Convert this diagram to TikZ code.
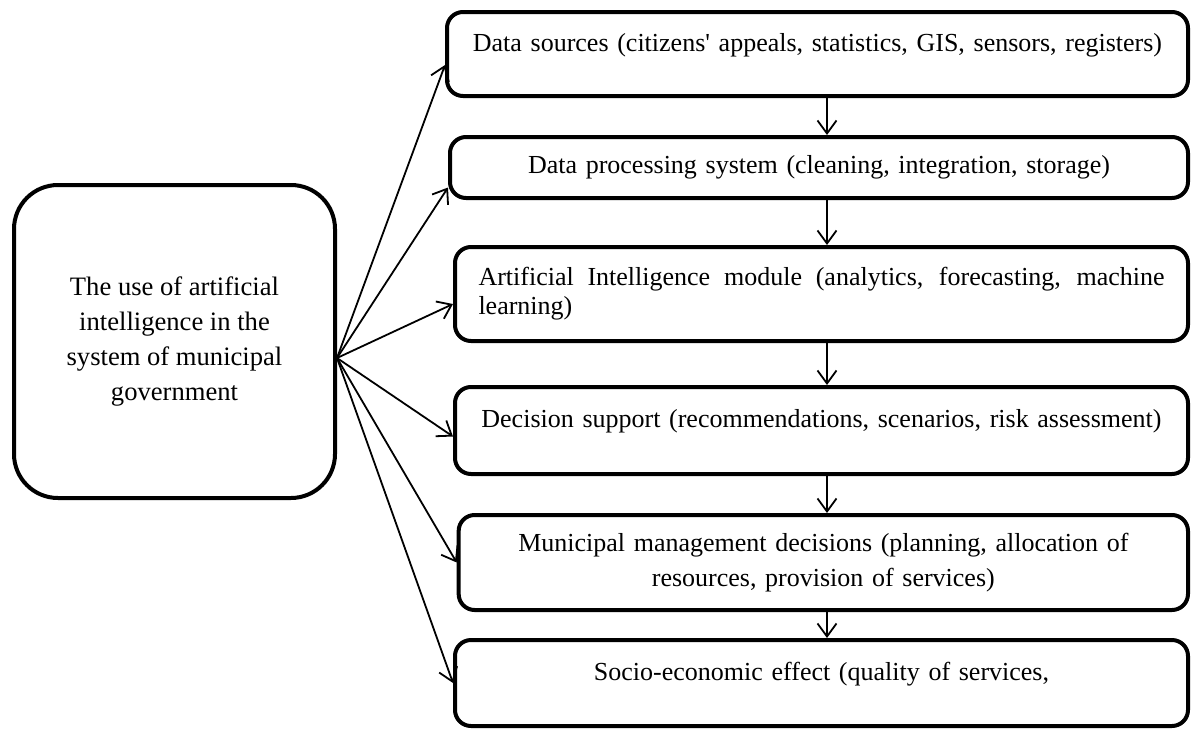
\documentclass[tikz,border=0pt]{standalone}
\usepackage{fontspec}
\setmainfont{Liberation Serif}
\usetikzlibrary{arrows.meta, positioning}

\begin{document}
\begin{tikzpicture}[x=0.5pt,y=-0.5pt,>={Straight Barb[length=6.5pt,width=9.5pt]}]
        \tikzstyle{theme}=[rectangle,rounded corners=22pt,draw,line width=2pt,align=center,minimum width=160.5pt,minimum height=156.5pt,font=\fontsize{13.3}{17.5}\selectfont]
        \tikzstyle{stage}=[rectangle,rounded corners=8pt,draw,line width=2pt,align=center,text width=358pt,minimum width=366.5pt,font=\fontsize{13}{17.5}\selectfont]
        \tikzstyle{toptext}=[text depth=12pt]
        \tikzstyle{link}=[->,line width=0.9pt]
        \useasboundingbox (0,0) rectangle (1195,729);
        \node[theme] (core) at (174.5,341.5) {The use of artificial\\intelligence in the\\system of municipal\\government};
        \node[stage,toptext,anchor=north east,minimum width=370.5pt,minimum height=42pt] (sources) at (1190,10) {Data sources (citizens\textquotesingle{} appeals, statistics, GIS, sensors, registers)};
        \node[stage,below=18.5pt of sources.south east,anchor=north east,minimum width=369pt,minimum height=30.5pt] (processing) {Data processing system (cleaning, integration, storage)};
        \node[stage,below=22.5pt of processing.south east,anchor=north east,minimum height=47pt,align=justify,text width=343pt,font=\fontsize{13}{14.5}\selectfont] (module) {Artificial Intelligence module (analytics, forecasting, machine learning)};
        \node[stage,toptext,below=21pt of module.south east,anchor=north east,minimum height=43.5pt] (support) {Decision support (recommendations, scenarios, risk assessment)};
        \node[stage,below=18.5pt of support.south east,anchor=north east,minimum width=364pt,minimum height=47.5pt] (decisions) {Municipal management decisions (planning, allocation of\\resources, provision of services)};
        \node[stage,toptext,below=13pt of decisions.south east,anchor=north east,minimum height=43pt] (effect) {Socio-economic effect (quality of services,};
        \coordinate (hub) at ([yshift=-8.25pt]core.east);
        \coordinate (spine) at (827,0);
        \draw[link] (hub)--([yshift=-5.5pt]sources.west);
        \draw[link] (hub)--([yshift=-10pt]processing.west);
        \draw[link] (hub)--([yshift=-5pt]module.west);
        \draw[link] (hub)--([yshift=-3pt]support.west);
        \draw[link] (hub)--(decisions.west);
        \draw[link] (hub)--(effect.west);
        \draw[link] (sources.south -| spine)--(processing.north -| spine);
        \draw[link] (processing.south -| spine)--(module.north -| spine);
        \draw[link] (module.south -| spine)--(support.north -| spine);
        \draw[link] (support.south -| spine)--(decisions.north -| spine);
        \draw[link] (decisions.south -| spine)--(effect.north -| spine);
    \end{tikzpicture}
\end{document}
